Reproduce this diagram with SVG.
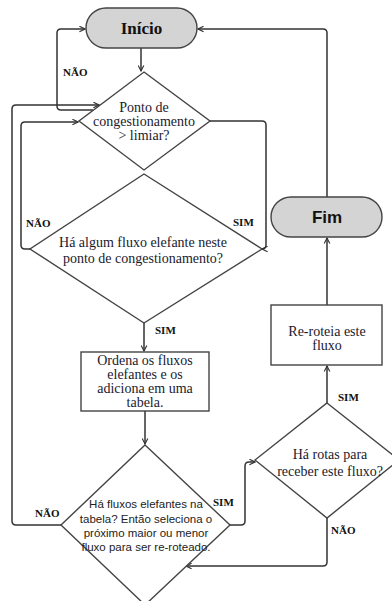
<svg xmlns="http://www.w3.org/2000/svg" width="392" height="601" viewBox="0 0 392 601">
<defs>
<marker id="arr" viewBox="0 0 10 10" refX="9" refY="5" markerWidth="7" markerHeight="7" orient="auto" markerUnits="userSpaceOnUse">
<path d="M1,1 L9,5 L1,9" fill="none" stroke="#333" stroke-width="1.6"/>
</marker>
<style>
.sh{fill:#fff;stroke:#444;stroke-width:1.4}
.pill{fill:#d4d4d4;stroke:#444;stroke-width:1.4}
.c{fill:none;stroke:#333;stroke-width:1.5;stroke-linejoin:round}
.t{font-family:"Liberation Serif","Times New Roman",serif;font-size:14px;fill:#1a1a2e;text-anchor:middle}
.ts{font-family:"Liberation Sans",Arial,sans-serif;font-size:11.5px;fill:#222;text-anchor:middle}
.lb{font-family:"Liberation Serif","Times New Roman",serif;font-size:11px;font-weight:bold;fill:#111}
</style>
</defs>
<rect width="392" height="601" fill="#fff"/>
<g id="connectors">
<path class="c" d="M141,48 L141,71" marker-end="url(#arr)"/>
<path class="c" d="M93,110 L61,110 Q57,110 57,106 L57,33 Q57,29 61,29 L85,29" marker-end="url(#arr)"/>
<path class="c" d="M61,525 L16,525 Q12,525 12,521 L12,109 Q12,105 16,105 L99,105" marker-end="url(#arr)"/>
<path class="c" d="M30,249 L25,249 Q21,249 21,245 L21,126 Q21,122 25,122 L78,122" marker-end="url(#arr)"/>
<path class="c" d="M210,121 L262,121 Q266,121 266,125 L266,245 Q266,249 262,249" marker-end="url(#arr)"/>
<path class="c" d="M144,323 L144,351" marker-end="url(#arr)"/>
<path class="c" d="M145,411 L145,444" marker-end="url(#arr)"/>
<path class="c" d="M230,525 L241,525 Q245,525 245,521 L245,466 Q245,462 249,462 L255,462" marker-end="url(#arr)"/>
<path class="c" d="M327,518 L327,562 Q327,566 323,566 L186,566" marker-end="url(#arr)"/>
<path class="c" d="M327,403 L327,366" marker-end="url(#arr)"/>
<path class="c" d="M327,305 L327,238" marker-end="url(#arr)"/>
<path class="c" d="M327,197 L327,33 Q327,29 323,29 L198,29" marker-end="url(#arr)"/>
</g>
<g id="inicio">
<rect class="pill" x="86" y="8" width="111" height="40" rx="20"/>
<text x="141.5" y="34" font-family="'Liberation Serif','Times New Roman',serif" font-size="17" font-weight="bold" text-anchor="middle" fill="#111">Início</text>
</g>
<g id="d1">
<polygon class="sh" points="144,72 210,121 144,170 79,121"/>
<text class="t" x="144" y="112">Ponto de</text>
<text class="t" x="144" y="126">congestionamento</text>
<text class="t" x="144" y="140">&gt; limiar?</text>
</g>
<g id="d2">
<polygon class="sh" points="144,174 262,249 144,323 30,249"/>
<text class="t" x="143" y="247">Há algum fluxo elefante neste</text>
<text class="t" x="143" y="263">ponto de congestionamento?</text>
</g>
<g id="ordena">
<rect class="sh" x="81" y="352" width="128" height="59"/>
<text class="t" x="145" y="365">Ordena os fluxos</text>
<text class="t" x="145" y="379">elefantes e os</text>
<text class="t" x="145" y="393">adiciona em uma</text>
<text class="t" x="145" y="407">tabela.</text>
</g>
<g id="d3">
<polygon class="sh" points="145,445 230,525 145,605 61,525"/>
<text class="ts" x="146" y="508">Há fluxos elefantes na</text>
<text class="ts" x="146" y="523">tabela? Então seleciona o</text>
<text class="ts" x="146" y="537">próximo maior ou menor</text>
<text class="ts" x="146" y="551">fluxo para ser re-roteado.</text>
</g>
<g id="d4">
<polygon class="sh" points="327,403 399,460 327,518 255,460"/>
<text class="t" x="330" y="459">Há rotas para</text>
<text class="t" x="330" y="476">receber este fluxo?</text>
</g>
<g id="reroteia">
<rect class="sh" x="271" y="305" width="111" height="60"/>
<text class="t" x="327" y="336">Re-roteia este</text>
<text class="t" x="327" y="350">fluxo</text>
</g>
<g id="fim">
<rect class="pill" x="271" y="197" width="111" height="40" rx="20"/>
<text x="327" y="223" font-family="'Liberation Sans',Arial,sans-serif" font-size="17" font-weight="bold" text-anchor="middle" fill="#111">Fim</text>
</g>
<g id="labels">
<text class="lb" x="63" y="76">NÃO</text>
<text class="lb" x="26" y="227">NÃO</text>
<text class="lb" x="233" y="226">SIM</text>
<text class="lb" x="155" y="334">SIM</text>
<text class="lb" x="35" y="517">NÃO</text>
<text class="lb" x="213" y="506">SIM</text>
<text class="lb" x="338" y="401">SIM</text>
<text class="lb" x="331" y="534">NÃO</text>
</g>
</svg>
